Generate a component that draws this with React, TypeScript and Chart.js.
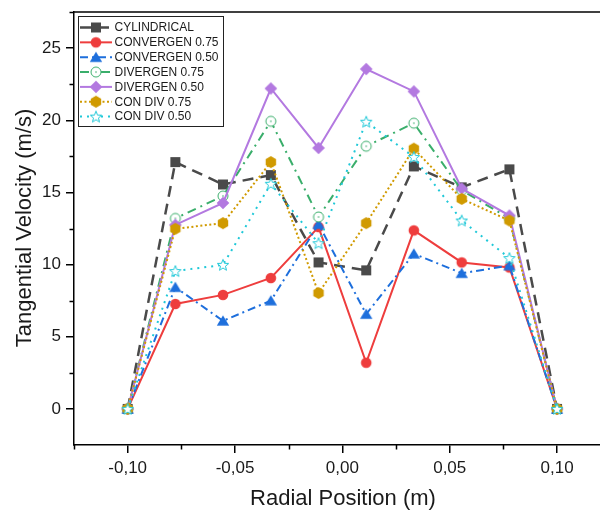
import React, { useEffect, useRef } from 'react';
import { Chart, registerables } from 'chart.js';

Chart.register(...registerables);

// ---- data ----
const radialPositions = [-0.1, -0.0778, -0.0556, -0.0333, -0.0111, 0.0111, 0.0333, 0.0556, 0.0778, 0.1];
const cylindrical = [0, 17.1, 15.55, 16.2, 10.15, 9.6, 16.8, 15.35, 16.6, 0];
const convergen075 = [0, 7.27, 7.9, 9.07, 12.6, 3.2, 12.37, 10.15, 9.8, 0];
const convergen050 = [0, 8.43, 6.1, 7.5, 12.8, 6.57, 10.75, 9.4, 9.93, 0];
const divergen075 = [0, 13.2, 14.75, 19.93, 13.3, 18.2, 19.8, 15.15, 13.2, 0];
const divergen050 = [0, 12.75, 14.27, 22.2, 18.08, 23.55, 22.0, 15.27, 13.4, 0];
const conDiv075 = [0, 12.48, 12.87, 17.1, 8.03, 12.87, 18.03, 14.55, 13.05, 0];
const conDiv050 = [0, 9.55, 9.98, 15.6, 11.48, 19.9, 17.45, 13.05, 10.45, 0];

const seriesLabels = [
  'CYLINDRICAL',
  'CONVERGEN 0.75',
  'CONVERGEN 0.50',
  'DIVERGEN 0.75',
  'DIVERGEN 0.50',
  'CON DIV 0.75',
  'CON DIV 0.50',
];
const seriesValues = [cylindrical, convergen075, convergen050, divergen075, divergen050, conDiv075, conDiv050];

const xMajorTicks = [-0.1, -0.05, 0, 0.05, 0.1];
const xMinorTicks = [-0.125, -0.075, -0.025, 0.025, 0.075];
const yMajorTicks = [0, 5, 10, 15, 20, 25];
const yMinorTicks = [2.5, 7.5, 12.5, 17.5, 22.5, 27.5];

const xTitle = 'Radial Position (m)';
const yTitle = 'Tangential Velocity (m/s)';

// ---- styles ----
const FONT = '"Liberation Sans", Arial, sans-serif';
const TEXT = '#1a1a1a';

type Kind = 'square' | 'circle' | 'triangle' | 'openCircle' | 'diamond' | 'hexagon' | 'star';
const seriesStyles: { color: string; dash: number[]; width: number; marker: Kind }[] = [
  { color: '#4a4a4a', dash: [11, 7], width: 2.5, marker: 'square' },
  { color: '#ee3d3d', dash: [], width: 2, marker: 'circle' },
  { color: '#1e6fdc', dash: [8, 4, 2, 4], width: 2, marker: 'triangle' },
  { color: '#3aae6b', dash: [9, 5, 2, 5], width: 2, marker: 'openCircle' },
  { color: '#b379e0', dash: [], width: 2, marker: 'diamond' },
  { color: '#d09a00', dash: [2, 2.5], width: 2, marker: 'hexagon' },
  { color: '#1fc8d8', dash: [2, 5], width: 2, marker: 'star' },
];

function makeMarker(kind: Kind, color: string): HTMLCanvasElement {
  const c = document.createElement('canvas');
  c.width = 16;
  c.height = 16;
  const g = c.getContext('2d')!;
  const cx = 8, cy = 8;
  g.fillStyle = color;
  g.strokeStyle = color;
  g.lineWidth = 1;
  g.beginPath();
  if (kind === 'square') {
    g.rect(cx - 5, cy - 5, 10, 10);
    g.fill();
  } else if (kind === 'circle') {
    g.arc(cx, cy, 5.3, 0, Math.PI * 2);
    g.fill();
  } else if (kind === 'triangle') {
    g.moveTo(cx, cy - 5.6);
    g.lineTo(cx + 6.2, cy + 4.8);
    g.lineTo(cx - 6.2, cy + 4.8);
    g.closePath();
    g.fill();
  } else if (kind === 'openCircle') {
    g.arc(cx, cy, 5, 0, Math.PI * 2);
    g.fillStyle = '#ffffff';
    g.fill();
    g.stroke();
    g.beginPath();
    g.fillStyle = color;
    g.arc(cx, cy, 0.8, 0, Math.PI * 2);
    g.fill();
  } else if (kind === 'diamond') {
    g.moveTo(cx, cy - 6.3);
    g.lineTo(cx + 6.3, cy);
    g.lineTo(cx, cy + 6.3);
    g.lineTo(cx - 6.3, cy);
    g.closePath();
    g.fill();
  } else if (kind === 'hexagon') {
    for (let i = 0; i < 6; i++) {
      const a = (-90 + 60 * i) * Math.PI / 180;
      const px = cx + 6 * Math.cos(a);
      const py = cy + 6 * Math.sin(a);
      if (i === 0) g.moveTo(px, py); else g.lineTo(px, py);
    }
    g.closePath();
    g.fill();
  } else if (kind === 'star') {
    for (let i = 0; i < 10; i++) {
      const r = i % 2 === 0 ? 6 : 2.6;
      const a = (-90 + 36 * i) * Math.PI / 180;
      const px = cx + r * Math.cos(a);
      const py = cy + 0.5 + r * Math.sin(a);
      if (i === 0) g.moveTo(px, py); else g.lineTo(px, py);
    }
    g.closePath();
    g.fillStyle = '#ffffff';
    g.fill();
    g.stroke();
  }
  return c;
}

function fmtX(v: number): string {
  const n = Math.abs(v) < 1e-9 ? 0 : v;
  return n.toFixed(2).replace('.', ',');
}

const PLOT_RIGHT = 600;

export default function App() {
  const ref = useRef<HTMLCanvasElement | null>(null);

  useEffect(() => {
    if (!ref.current) return;
    const markers = seriesStyles.map((s) => makeMarker(s.marker, s.color));

    const decor = {
      id: 'decor',
      afterLayout(chart: any) {
        const xs = chart.scales.x;
        const ca = chart.chartArea;
        xs.right = PLOT_RIGHT;
        xs.width = PLOT_RIGHT - xs.left;
        xs.configure();
        ca.right = PLOT_RIGHT;
        ca.width = PLOT_RIGHT - ca.left;
      },
      afterDraw(chart: any) {
        const { ctx, chartArea: ca, scales } = chart;
        const xs = scales.x;
        const ys = scales.y;
        ctx.save();
        // top frame line
        ctx.strokeStyle = '#000';
        ctx.lineWidth = 1.5;
        ctx.beginPath();
        ctx.moveTo(ca.left - 0.75, ca.top);
        ctx.lineTo(600, ca.top);
        ctx.stroke();
        // minor ticks
        ctx.beginPath();
        xMinorTicks.forEach((v) => {
          const px = Math.round(xs.getPixelForValue(v)) + 0.5;
          ctx.moveTo(px, ca.bottom);
          ctx.lineTo(px, ca.bottom + 4.5);
        });
        yMinorTicks.forEach((v) => {
          const py = Math.round(ys.getPixelForValue(v)) + 0.5;
          ctx.moveTo(ca.left, py);
          ctx.lineTo(ca.left - 4.5, py);
        });
        ctx.stroke();

        // axis titles
        ctx.fillStyle = TEXT;
        ctx.font = `22px ${FONT}`;
        ctx.textAlign = 'center';
        ctx.textBaseline = 'middle';
        ctx.fillText(xTitle, 343, 499);
        ctx.save();
        ctx.translate(25, 228);
        ctx.rotate(-Math.PI / 2);
        ctx.fillText(yTitle, 0, 0);
        ctx.restore();

        // legend
        const bx = 78.5, by = 16.5, bw = 145, bh = 110;
        ctx.fillStyle = '#ffffff';
        ctx.fillRect(bx, by, bw, bh);
        ctx.strokeStyle = '#222';
        ctx.lineWidth = 1;
        ctx.strokeRect(bx, by, bw, bh);
        ctx.font = `12px ${FONT}`;
        ctx.textAlign = 'left';
        ctx.textBaseline = 'middle';
        seriesLabels.forEach((label, i) => {
          const yy = 27.5 + i * 14.85;
          const st = seriesStyles[i];
          ctx.save();
          ctx.strokeStyle = st.color;
          ctx.lineWidth = st.width;
          ctx.setLineDash(st.dash);
          ctx.beginPath();
          ctx.moveTo(80, yy);
          ctx.lineTo(112, yy);
          ctx.stroke();
          ctx.restore();
          const m = markers[i];
          ctx.drawImage(m, 96 - m.width / 2, yy - m.height / 2);
          ctx.fillStyle = TEXT;
          ctx.fillText(label, 114.5, yy + 0.5);
        });
        ctx.restore();
      },
    };

    const datasets = seriesLabels.map((label, i) => {
      const st = seriesStyles[i];
      return {
        label,
        data: radialPositions.map((x, j) => ({ x, y: seriesValues[i][j] })),
        borderColor: st.color,
        backgroundColor: st.color,
        borderWidth: st.width,
        borderDash: st.dash,
        borderCapStyle: 'butt' as const,
        pointStyle: markers[i],
        pointRadius: 5,
        pointHoverRadius: 5,
        tension: 0,
        fill: false,
        order: seriesLabels.length - i,
      };
    });

    const chart = new Chart(ref.current, {
      type: 'line',
      data: { datasets },
      plugins: [decor],
      options: {
        animation: false,
        responsive: false,
        devicePixelRatio: 1,
        layout: { padding: { top: 12, left: 0, right: 0, bottom: 0 } },
        plugins: {
          legend: { display: false },
          tooltip: { enabled: false },
          title: { display: false },
        },
        scales: {
          x: {
            type: 'linear',
            min: -0.125,
            max: 0.12,
            afterFit: (s: any) => {
              s.height = 65;
              s.paddingLeft = 0;
              s.paddingRight = 0;
            },
            afterBuildTicks: (s: any) => {
              s.ticks = xMajorTicks.map((v) => ({ value: v }));
            },
            grid: {
              display: true,
              drawOnChartArea: false,
              drawTicks: true,
              tickLength: 8,
              color: '#000',
              lineWidth: 1.5,
            },
            border: { display: true, color: '#000', width: 1.5 },
            ticks: {
              padding: 5,
              color: TEXT,
              font: { family: FONT, size: 17 },
              maxRotation: 0,
              autoSkip: false,
              callback: (v: any) => fmtX(Number(v)),
            },
            title: { display: false },
          },
          y: {
            type: 'linear',
            min: -2.5,
            max: 27.5,
            afterFit: (s: any) => {
              s.width = 74;
              s.paddingTop = 0;
              s.paddingBottom = 0;
            },
            afterBuildTicks: (s: any) => {
              s.ticks = yMajorTicks.map((v) => ({ value: v }));
            },
            grid: {
              display: true,
              drawOnChartArea: false,
              drawTicks: true,
              tickLength: 8,
              color: '#000',
              lineWidth: 1.5,
            },
            border: { display: true, color: '#000', width: 1.5 },
            ticks: {
              padding: 5,
              color: TEXT,
              font: { family: FONT, size: 17 },
              autoSkip: false,
              callback: (v: any) => String(v),
            },
            title: { display: false },
          },
        },
      },
    });

    return () => chart.destroy();
  }, []);

  return (
    <div style={{ position: 'fixed', left: 0, top: 0, width: 600, height: 510, background: '#fff' }}>
      <canvas ref={ref} width={600} height={510} style={{ width: 600, height: 510, display: 'block' }} />
    </div>
  );
}
